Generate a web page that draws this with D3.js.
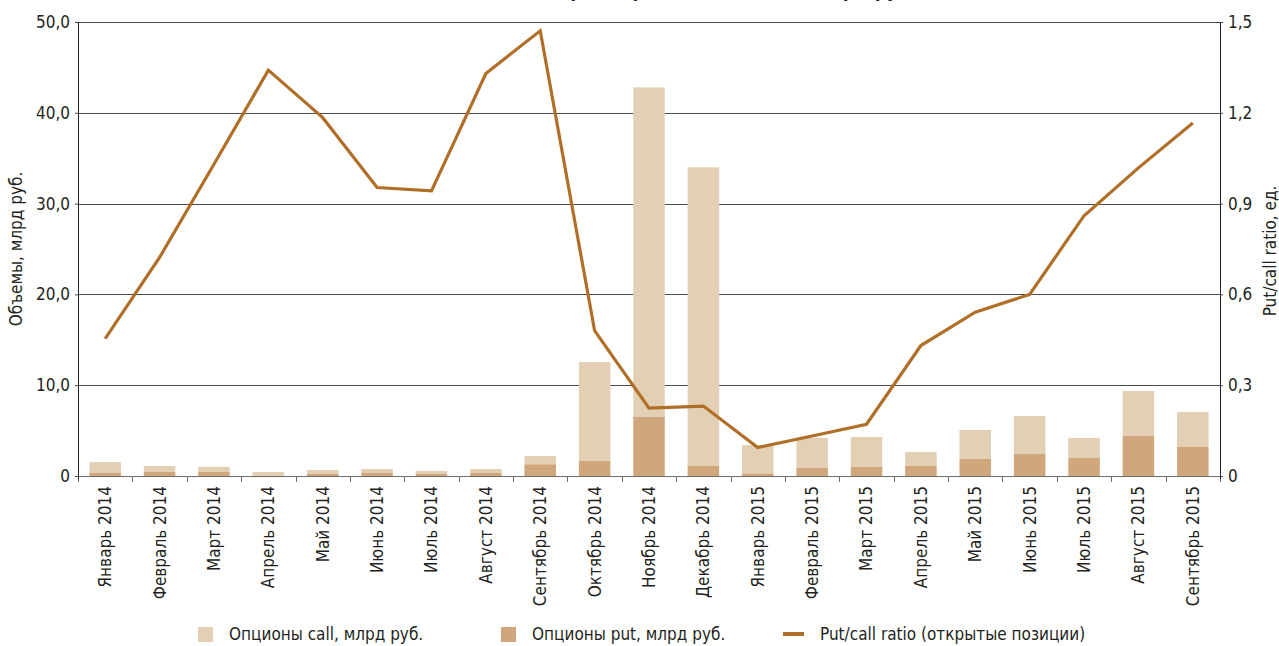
<!DOCTYPE html>
<html>
<head>
<meta charset="utf-8">
<script src="https://cdn.jsdelivr.net/npm/d3@7"></script>
<style>
  body { margin: 0; background: #fff; }
  svg text { font-family: "Liberation Sans Narrow", "DejaVu Sans Condensed", "Arial Narrow", sans-serif; fill: #231f20; }
</style>
</head>
<body>
<div id="chart"></div>
<script>
var months = ["Январь 2014", "Февраль 2014", "Март 2014", "Апрель 2014", "Май 2014", "Июнь 2014",
  "Июль 2014", "Август 2014", "Сентябрь 2014", "Октябрь 2014", "Ноябрь 2014", "Декабрь 2014",
  "Январь 2015", "Февраль 2015", "Март 2015", "Апрель 2015", "Май 2015", "Июнь 2015",
  "Июль 2015", "Август 2015", "Сентябрь 2015"]

// млрд руб.
var putVol  = [0.33, 0.44, 0.44, 0.06, 0.22, 0.33, 0.22, 0.33, 1.3, 1.65, 6.5, 1.1,
  0.3, 0.88, 0.99, 1.1, 1.87, 2.42, 1.98, 4.4, 3.2]
var callVol = [1.2, 0.66, 0.56, 0.38, 0.44, 0.44, 0.33, 0.44, 0.9, 10.9, 36.3, 32.9,
  3.1, 3.32, 3.31, 1.54, 3.2, 4.18, 2.21, 4.96, 3.85]
// ед.
var ratio = [0.454, 0.722, 1.03, 1.341, 1.184, 0.953, 0.942, 1.33, 1.471, 0.48, 0.224, 0.231,
  0.094, 0.132, 0.171, 0.431, 0.541, 0.6, 0.86, 1.018, 1.166]

var leftTicks = [0, 10, 20, 30, 40, 50]
var rightTicks = [0, 0.3, 0.6, 0.9, 1.2, 1.5]

var W = 1279, H = 646
var margin = {top: 22, right: 59, bottom: 170, left: 78},
    width = W - margin.left - margin.right,
    height = H - margin.top - margin.bottom

var colCall = "#e2cfb4", colPut = "#d0a77c", colLine = "#b06f28"

var fmt = function(d) { return d === 0 ? "0" : d.toFixed(1).replace(".", ",") }

var svg = d3.select("#chart").append("svg")
    .attr("width", W)
    .attr("height", H)

// title, almost entirely cut off by the top edge in the original
svg.append("text")
    .attr("x", 678).attr("y", -3)
    .attr("text-anchor", "middle")
    .style("font-size", "19px").style("font-weight", "bold")
    .text("Опционы на фьючерс на индекс РТС, млрд руб.")

var g = svg.append("g").attr("transform", "translate(" + margin.left + "," + margin.top + ")")

var x = d3.scaleBand().domain(months).range([0, width]).padding(0)
var y = d3.scaleLinear().domain([0, 50]).range([height, 0])
var y2 = d3.scaleLinear().domain([0, 1.5]).range([height, 0])

// grid
g.append("g").selectAll("line")
    .data(leftTicks.filter(function(d) { return d > 0 }))
    .enter().append("line")
    .attr("x1", 0).attr("x2", width)
    .attr("y1", function(d) { return Math.round(y(d)) + 0.5 })
    .attr("y2", function(d) { return Math.round(y(d)) + 0.5 })
    .attr("stroke", "#4a4a4a").attr("stroke-width", 1)

// stacked bars
var table = months.map(function(m, i) { return {month: m, put: putVol[i], call: callVol[i]} })
var layers = d3.stack().keys(["put", "call"])(table)
var bw = x.bandwidth() * 0.58

g.append("g").selectAll("g")
    .data(layers)
    .enter().append("g")
    .attr("fill", function(d) { return d.key === "put" ? colPut : colCall })
    .selectAll("rect")
    .data(function(d) { return d })
    .enter().append("rect")
    .attr("x", function(d) { return x(d.data.month) + (x.bandwidth() - bw) / 2 })
    .attr("width", bw)
    .attr("y", function(d) { return y(d[1]) })
    .attr("height", function(d) { return y(d[0]) - y(d[1]) })

// x axis
g.append("line")
    .attr("x1", 0).attr("x2", width)
    .attr("y1", height + 0.5).attr("y2", height + 0.5)
    .attr("stroke", "#6d6d6d")

var bounds = months.map(function(m) { return x(m) }).concat([width])
g.append("g").selectAll("line")
    .data(bounds)
    .enter().append("line")
    .attr("x1", function(d) { return Math.round(d) + 0.5 })
    .attr("x2", function(d) { return Math.round(d) + 0.5 })
    .attr("y1", height).attr("y2", height + 6)
    .attr("stroke", "#6d6d6d")

g.append("g").selectAll("text")
    .data(months)
    .enter().append("text")
    .attr("transform", function(d) { return "translate(" + (x(d) + x.bandwidth() / 2) + "," + (height + 10) + ") rotate(-90)" })
    .attr("text-anchor", "end")
    .attr("dy", "0.35em")
    .style("font-size", "17px")
    .text(function(d) { return d })

// left axis
var yAxis = d3.axisLeft(y).tickValues(leftTicks).tickSize(3).tickPadding(5).tickFormat(fmt)
var ga = g.append("g").attr("class", "y axis").call(yAxis)
ga.select(".domain").remove()
ga.selectAll("line").attr("stroke", "#4a4a4a")
ga.selectAll("text").style("font-size", "17px")
g.append("line").attr("x1", 0.5).attr("x2", 0.5).attr("y1", 0).attr("y2", height + 3)
    .attr("stroke", "#231f20")

// right axis
var yAxis2 = d3.axisRight(y2).tickValues(rightTicks).tickSize(3).tickPadding(5).tickFormat(fmt)
var gb = g.append("g").attr("transform", "translate(" + width + ",0)").call(yAxis2)
gb.select(".domain").remove()
gb.selectAll("line").attr("stroke", "#4a4a4a")
gb.selectAll("text").style("font-size", "17px")
g.append("line").attr("x1", width + 0.5).attr("x2", width + 0.5).attr("y1", 0).attr("y2", height + 3)
    .attr("stroke", "#231f20")

// ratio line
var line = d3.line()
    .x(function(d, i) { return x(months[i]) + x.bandwidth() / 2 })
    .y(function(d) { return y2(d) })

g.append("path")
    .datum(ratio)
    .attr("d", line)
    .attr("fill", "none")
    .attr("stroke", colLine)
    .attr("stroke-width", 3.2)
    .attr("stroke-linejoin", "miter")

// axis titles
svg.append("text")
    .attr("transform", "translate(22," + 249 + ") rotate(-90)")
    .attr("text-anchor", "middle")
    .style("font-size", "17px")
    .text("Объемы, млрд руб.")

svg.append("text")
    .attr("transform", "translate(1270," + 251 + ") rotate(-90)")
    .attr("text-anchor", "middle")
    .attr("dy", "0.35em")
    .style("font-size", "17px")
    .text("Put/call ratio, ед.")

// legend
var legendItems = [
  {label: "Опционы call, млрд руб.", kind: "rect", color: colCall, x: 198},
  {label: "Опционы put, млрд руб.", kind: "rect", color: colPut, x: 501},
  {label: "Put/call ratio (открытые позиции)", kind: "line", color: colLine, x: 783}
]
var lg = svg.append("g").selectAll("g").data(legendItems).enter().append("g")
lg.each(function(d) {
  var s = d3.select(this)
  if (d.kind === "rect") {
    s.append("rect").attr("x", d.x).attr("y", 627).attr("width", 15).attr("height", 15).attr("fill", d.color)
    s.append("text").attr("x", d.x + 31).attr("y", 640).style("font-size", "17px").text(d.label)
  } else {
    s.append("rect").attr("x", d.x).attr("y", 632).attr("width", 21).attr("height", 4).attr("fill", d.color)
    s.append("text").attr("x", d.x + 37).attr("y", 640).style("font-size", "17px").text(d.label)
  }
})
</script>
</body>
</html>
